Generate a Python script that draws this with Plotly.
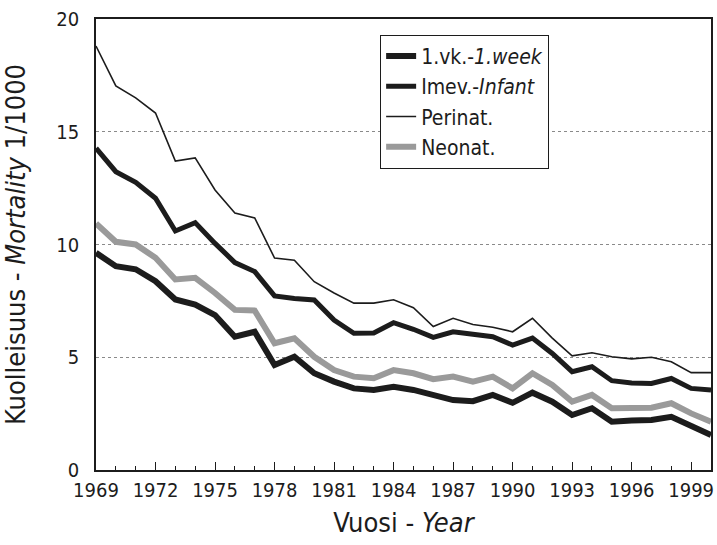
import plotly.graph_objects as go

years = list(range(1969, 2001))

week1 = [9.63, 9.04, 8.90, 8.37, 7.56, 7.34, 6.87, 5.91, 6.13, 4.66, 5.02, 4.29,
         3.92, 3.62, 3.55, 3.69, 3.55, 3.30, 3.10, 3.05, 3.33, 2.98, 3.43, 3.03,
         2.44, 2.74, 2.14, 2.19, 2.22, 2.36, 1.92, 1.55]
infant = [14.27, 13.23, 12.76, 12.05, 10.60, 10.97, 10.05, 9.20, 8.80, 7.72, 7.61, 7.54,
          6.65, 6.06, 6.08, 6.53, 6.24, 5.88, 6.13, 6.02, 5.91, 5.54, 5.85, 5.17,
          4.36, 4.58, 3.96, 3.86, 3.84, 4.06, 3.62, 3.55]
perinat = [18.80, 17.03, 16.50, 15.83, 13.70, 13.84, 12.42, 11.40, 11.18, 9.40, 9.30, 8.35,
           7.85, 7.40, 7.40, 7.55, 7.20, 6.36, 6.73, 6.45, 6.33, 6.13, 6.73, 5.85,
           5.06, 5.20, 5.02, 4.93, 5.00, 4.80, 4.32, 4.32]
neonat = [10.93, 10.12, 10.00, 9.41, 8.45, 8.52, 7.85, 7.10, 7.07, 5.62, 5.84, 5.02,
          4.43, 4.14, 4.07, 4.43, 4.29, 4.03, 4.14, 3.92, 4.14, 3.62, 4.29, 3.77,
          3.03, 3.33, 2.74, 2.74, 2.76, 2.96, 2.51, 2.14]

x_tickvals = list(range(1969, 2000, 3))
y_tickvals = [0, 5, 10, 15, 20]

FONT = "DejaVu Sans Condensed, Liberation Sans Narrow, sans-serif"

fig = go.Figure()
fig.add_trace(go.Scatter(x=years, y=week1, mode="lines", name="1.vk.-<i>1.week</i>",
                         line=dict(color="#1c1c1c", width=6), legendgroup="a"))
fig.add_trace(go.Scatter(x=years, y=infant, mode="lines", name="Imev.-<i>Infant</i>",
                         line=dict(color="#1c1c1c", width=5), legendgroup="b"))
fig.add_trace(go.Scatter(x=years, y=perinat, mode="lines", name="Perinat.",
                         line=dict(color="#1c1c1c", width=1.6), legendgroup="c"))
fig.add_trace(go.Scatter(x=years, y=neonat, mode="lines", name="Neonat.",
                         line=dict(color="#9a9a9a", width=6), legendgroup="d"))

fig.update_layout(
    width=717, height=545,
    margin=dict(l=96, r=3, t=19, b=75),
    paper_bgcolor="white", plot_bgcolor="white",
    font=dict(family=FONT, size=20, color="#1c1c1c"),
    showlegend=True,
    legend=dict(x=0.462, y=0.965, xanchor="left", yanchor="top",
                bgcolor="white", bordercolor="#1c1c1c", borderwidth=1,
                font=dict(size=21, family=FONT), tracegroupgap=0,
                itemwidth=30),
    xaxis=dict(range=[1969, 2000], tickvals=x_tickvals, ticks="inside", ticklen=8,
               tickcolor="#1c1c1c", showgrid=False, zeroline=False,
               showline=True, linecolor="#1c1c1c", linewidth=1.5, mirror=True,
               minor=dict(dtick=1, tick0=1969, ticks="inside", ticklen=4,
                          tickcolor="#1c1c1c", showgrid=False),
               ticklabelstandoff=1,
               title=dict(text="Vuosi - <i>Year</i>", standoff=12,
                          font=dict(size=27, family=FONT))),
    yaxis=dict(range=[0, 20], tickvals=y_tickvals, ticks="", showgrid=True,
               gridcolor="#8a8a8a", griddash="dot", gridwidth=1, zeroline=False,
               showline=True, linecolor="#1c1c1c", linewidth=1.5, mirror=True,
               ticklabelstandoff=11,
               title=dict(text="Kuolleisuus - <i>Mortality</i> 1/1000", standoff=24,
                          font=dict(size=27, family=FONT))),
)

fig.write_html("out.html", config={"displayModeBar": False},
               post_script="document.body.style.margin='0px';")
